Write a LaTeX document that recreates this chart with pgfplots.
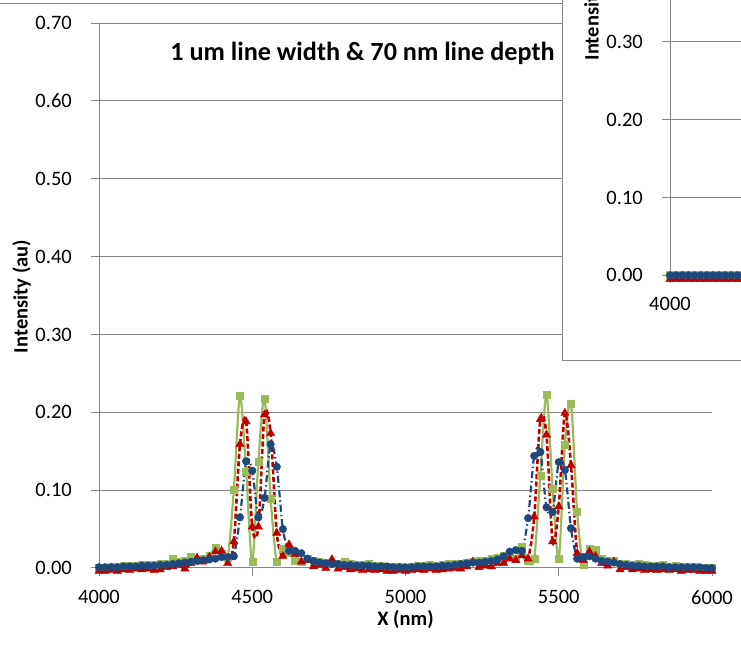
\documentclass[border=0pt]{standalone}
\usepackage{fontspec}
\setmainfont{Carlito}
\usepackage{pgfplots}
\usepackage{pgfplotstable}
\pgfplotsset{compat=1.18}
\definecolor{gridgray}{RGB}{134,134,134}
\definecolor{xgreen}{RGB}{155,187,89}
\definecolor{xred}{RGB}{192,0,0}
\definecolor{xblue}{RGB}{31,73,125}

\pgfplotstableread{
x B R G
4000 0.001 -0.004 0.001
4020 0.001 -0.004 0.001
4040 0.001 -0.003 0.002
4060 0.001 -0.004 0.002
4080 0.002 -0.002 0.003
4100 0.002 -0.003 0.003
4120 0.002 -0.001 0.003
4140 0.003 -0.002 0.004
4160 0.003 -0.001 0.004
4180 0.003 -0.003 0.004
4200 0.004 -0.002 0.005
4220 0.004 0.001 0.006
4240 0.005 0.002 0.012
4260 0.006 0.004 0.008
4280 0.007 -0.001 0.009
4300 0.008 0.006 0.015
4320 0.009 0.013 0.011
4340 0.010 0.008 0.012
4360 0.011 0.014 0.016
4380 0.012 0.021 0.026
4400 0.014 0.022 0.018
4420 0.014 0.006 0.013
4440 0.015 0.034 0.101
4460 0.065 0.159 0.221
4480 0.137 0.188 0.124
4500 0.125 0.053 0.008
4520 0.065 0.053 0.137
4540 0.090 0.197 0.218
4560 0.159 0.173 0.089
4580 0.130 0.045 0.008
4600 0.050 0.015 0.025
4620 0.022 0.030 0.020
4640 0.022 0.018 0.010
4660 0.019 0.008 0.008
4680 0.012 0.010 0.012
4700 0.009 0.002 0.010
4720 0.007 0.004 0.008
4740 0.006 0.000 0.007
4760 0.005 0.011 0.006
4780 0.005 -0.001 0.006
4800 0.004 0.001 0.008
4820 0.004 -0.002 0.005
4840 0.003 -0.001 0.004
4860 0.003 -0.003 0.004
4880 0.003 -0.002 0.005
4900 0.002 -0.003 0.003
4920 0.002 -0.002 0.003
4940 0.002 -0.004 0.002
4960 0.001 -0.004 0.002
4980 0.001 -0.003 0.002
5000 0.001 -0.004 0.001
5020 0.001 -0.003 0.002
5040 0.002 -0.002 0.003
5060 0.002 -0.003 0.003
5080 0.002 -0.001 0.004
5100 0.002 -0.003 0.003
5120 0.003 -0.002 0.004
5140 0.003 -0.001 0.005
5160 0.004 0.000 0.005
5180 0.005 -0.001 0.006
5200 0.006 0.002 0.007
5220 0.007 0.008 0.008
5240 0.007 0.001 0.010
5260 0.008 0.003 0.009
5280 0.009 0.002 0.012
5300 0.011 0.006 0.013
5320 0.015 0.006 0.016
5340 0.021 0.012 0.018
5360 0.023 0.010 0.012
5380 0.022 0.016 0.027
5400 0.064 0.012 0.010
5420 0.144 0.066 0.012
5440 0.149 0.191 0.119
5460 0.078 0.171 0.223
5480 0.072 0.034 0.102
5500 0.136 0.079 0.012
5520 0.126 0.199 0.158
5540 0.051 0.132 0.211
5560 0.012 0.019 0.072
5580 0.014 0.010 0.004
5600 0.015 0.021 0.025
5620 0.012 0.015 0.023
5640 0.009 0.006 0.012
5660 0.008 0.003 0.010
5680 0.007 0.008 0.009
5700 0.005 -0.002 0.006
5720 0.004 0.001 0.006
5740 0.003 -0.002 0.004
5760 0.003 -0.001 0.005
5780 0.002 -0.003 0.004
5800 0.002 -0.002 0.003
5820 0.002 -0.003 0.003
5840 0.002 -0.002 0.004
5860 0.001 -0.003 0.002
5880 0.001 -0.002 0.003
5900 0.001 -0.004 0.002
5920 0.001 -0.003 0.002
5940 0.001 -0.003 0.002
5960 0.001 -0.004 0.001
5980 0.000 -0.004 0.001
6000 0.000 -0.004 0.001
}\maindata

\pgfplotstableread{
x B R G
4000 0.000 -0.005 0.001
4020 0.000 -0.005 0.001
4040 0.000 -0.005 0.001
4060 0.000 -0.005 0.001
4080 0.000 -0.005 0.001
4100 0.000 -0.005 0.001
4120 0.000 -0.005 0.001
4140 0.000 -0.005 0.001
4160 0.000 -0.005 0.001
4180 0.000 -0.005 0.001
4200 0.000 -0.005 0.001
4220 0.000 -0.005 0.001
4240 0.000 -0.005 0.001
4260 0.000 -0.005 0.001
}\insetdata

\pgfplotsset{
  excelstyle/.style={
    scale only axis, width=613bp, height=545bp,
    xmin=4000, xmax=6000, ymin=0, ymax=0.7,
    axis lines*=left,
    axis line style={draw=gridgray, line width=1bp, -},
    ymajorgrids,
    grid style={draw=gridgray, line width=1bp},
    tick align=outside,
    major tick length=8bp,
    tick style={draw=gridgray, line width=1bp},
    clip=false,
    /pgf/number format/assume math mode=true,
    ticklabel style={font=\fontsize{20.5bp}{24bp}\selectfont, text=black},
    yticklabel style={/pgf/number format/fixed, /pgf/number format/fixed zerofill, /pgf/number format/precision=2, anchor=east, inner sep=0pt, xshift=-19bp},
    xticklabel style={/pgf/number format/set thousands separator={}, anchor=north, inner sep=0pt, yshift=-14bp},
    every axis y label/.style={at={(axis description cs:-0.1264,0.498)}, rotate=90, anchor=center, font=\bfseries\fontsize{20.5bp}{24bp}\selectfont},
    every axis x label/.style={at={(axis description cs:0.5,-0.0935)}, anchor=center, font=\bfseries\fontsize{20.5bp}{24bp}\selectfont},
    ylabel={Intensity (au)},
  },
  gser/.style={xgreen, line width=2.2bp, smooth, mark=square*, mark size=3.5bp, mark options={solid, fill=xgreen, draw=xgreen, line width=0.4bp}},
  rser/.style={xred, line width=2.6bp, dash pattern=on 5bp off 2.5bp, smooth, mark=triangle*, mark size=4.8bp, mark options={solid, fill=xred, draw=xred, line width=0.4bp}},
  bser/.style={xblue, line width=2.2bp, dash pattern=on 7bp off 3bp on 1.5bp off 3bp, smooth, mark=*, mark size=3.8bp, mark options={solid, fill=xblue, draw=xblue, line width=0.4bp}},
}

\begin{document}
\begin{tikzpicture}
\useasboundingbox (0,0) rectangle (741bp,651bp);
\clip (0,0) rectangle (741bp,651bp);
\draw[gridgray, line width=1bp] (-5bp,647bp) -- (562.5bp,647bp);
\begin{axis}[excelstyle, at={(99bp,83bp)}, anchor=south west,
  xtick={4000,4500,5000,5500,6000},
  ytick={0,0.1,0.2,0.3,0.4,0.5,0.6,0.7},
  xlabel={X (nm)}]
\addplot[gser] table[x=x, y=G] {\maindata};
\addplot[rser] table[x=x, y=R] {\maindata};
\addplot[bser] table[x=x, y=B] {\maindata};
\end{axis}
\node[font=\bfseries\fontsize{26.2bp}{30bp}\selectfont, anchor=base] at (362.5bp,590bp) {1 um line width \& 70 nm line depth};
\filldraw[draw=gridgray, fill=white, line width=1bp] (562.5bp,290.5bp) rectangle (800bp,700bp);
\begin{axis}[excelstyle, at={(670bp,375.7bp)}, anchor=south west,
  xtick={4000},
  ytick={0,0.1,0.2,0.3,0.4,0.5,0.6,0.7},
  yticklabels={0.00,0.10,0.20,0.30,{},{},{},{}}]
\addplot[gser] table[x=x, y=G] {\insetdata};
\addplot[rser] table[x=x, y=R] {\insetdata};
\addplot[bser] table[x=x, y=B] {\insetdata};
\end{axis}
\end{tikzpicture}
\end{document}
